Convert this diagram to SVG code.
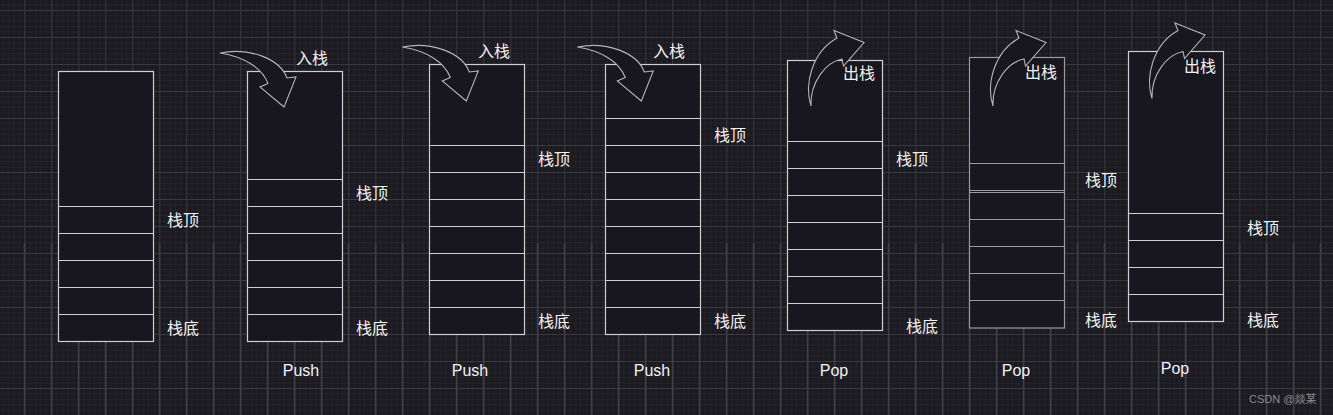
<svg xmlns="http://www.w3.org/2000/svg" width="1333" height="415" viewBox="0 0 1333 415">
  <defs>
    <pattern id="grid" patternUnits="userSpaceOnUse" x="24.3" y="10" width="27" height="27">
      <rect x="0" y="0" width="27" height="27" fill="#1b1a21"/>
      <rect x="5.4" y="0" width="0.8" height="27" fill="#25242b"/>
      <rect x="10.8" y="0" width="0.8" height="27" fill="#25242b"/>
      <rect x="16.2" y="0" width="0.8" height="27" fill="#25242b"/>
      <rect x="21.6" y="0" width="0.8" height="27" fill="#25242b"/>
      <rect x="0" y="5.4" width="27" height="0.8" fill="#25242b"/>
      <rect x="0" y="10.8" width="27" height="0.8" fill="#25242b"/>
      <rect x="0" y="16.2" width="27" height="0.8" fill="#25242b"/>
      <rect x="0" y="21.6" width="27" height="0.8" fill="#25242b"/>
      <rect x="0" y="0" width="1" height="27" fill="#3a393f"/>
      <rect x="0" y="0" width="27" height="1" fill="#3a393f"/>
    </pattern>
    <pattern id="vlow" patternUnits="userSpaceOnUse" x="23.8" y="0" width="27" height="27">
      <rect x="0" y="0" width="1.4" height="27" fill="#424147"/>
    </pattern>
    <style>
      .stack { fill: #18161f; stroke: #cfcfcf; stroke-width: 1.2; }
      .stack.dim { stroke: #9a9a9a; }
      .div { stroke: #cfcfcf; stroke-width: 1.2; }
      .div.dim { stroke: #9a9a9a; }
      .lbl { font-family: "Noto Sans CJK SC", "Noto Sans", sans-serif; font-size: 16px; fill: #f2f2f2; dominant-baseline: central; }
      .op { font-family: "Liberation Sans", Arial, sans-serif; font-size: 16px; fill: #f2f2f2; text-anchor: middle; dominant-baseline: central; }
      .arrow { fill: #18161f; stroke: #b4b4b4; stroke-width: 1.1; stroke-linejoin: miter; }
      .wm { font-family: "Liberation Sans", Arial, "Noto Sans CJK SC", sans-serif; font-size: 11px; fill: #8a8a8a; dominant-baseline: central; }
    </style>
  </defs>

  <rect x="0" y="0" width="1333" height="415" fill="url(#grid)"/>
  <rect x="0" y="243" width="1333" height="172" fill="url(#vlow)"/>

  <g id="stack1">
    <rect class="stack" x="58.5" y="71.5" width="95" height="270"/>
    <path class="div" d="M58.5 206.5H153.5M58.5 233.5H153.5M58.5 260.5H153.5M58.5 287.5H153.5M58.5 314.5H153.5"/>
    <text class="lbl" x="167" y="219">栈顶</text>
    <text class="lbl" x="167" y="327">栈底</text>
  </g>

  <g id="stack2">
    <rect class="stack" x="247.5" y="71.5" width="95" height="270"/>
    <path class="div" d="M247.5 179.5H342.5M247.5 206.5H342.5M247.5 233.5H342.5M247.5 260.5H342.5M247.5 287.5H342.5M247.5 314.5H342.5"/>
    <text class="lbl" x="356" y="192">栈顶</text>
    <text class="lbl" x="356" y="327">栈底</text>
    <text class="op" x="301" y="370">Push</text>
  </g>

  <g id="stack3">
    <rect class="stack" x="429.5" y="64.5" width="95" height="270"/>
    <path class="div" d="M429.5 145.5H524.5M429.5 172.5H524.5M429.5 199.5H524.5M429.5 226.5H524.5M429.5 253.5H524.5M429.5 280.5H524.5M429.5 307.5H524.5"/>
    <text class="lbl" x="538" y="158">栈顶</text>
    <text class="lbl" x="538" y="320">栈底</text>
    <text class="op" x="470" y="370">Push</text>
  </g>

  <g id="stack4">
    <rect class="stack" x="605.5" y="64.5" width="95" height="270"/>
    <path class="div" d="M605.5 118.5H700.5M605.5 145.5H700.5M605.5 172.5H700.5M605.5 199.5H700.5M605.5 226.5H700.5M605.5 253.5H700.5M605.5 280.5H700.5M605.5 307.5H700.5"/>
    <text class="lbl" x="714" y="134">栈顶</text>
    <text class="lbl" x="714" y="320">栈底</text>
    <text class="op" x="652" y="370">Push</text>
  </g>

  <g id="stack5">
    <rect class="stack" x="787.5" y="60.5" width="95" height="270"/>
    <path class="div" d="M787.5 141.5H882.5M787.5 168.5H882.5M787.5 195.5H882.5M787.5 222.5H882.5M787.5 249.5H882.5M787.5 276.5H882.5M787.5 303.5H882.5"/>
    <text class="lbl" x="896" y="158">栈顶</text>
    <text class="lbl" x="906" y="325">栈底</text>
    <text class="op" x="834" y="370">Pop</text>
  </g>

  <g id="stack6">
    <rect class="stack dim" x="969.5" y="57.5" width="95" height="270.5"/>
    <path class="div dim" d="M969.5 163.5H1064.5M969.5 190.5H1064.5M969.5 192.5H1064.5M969.5 219.5H1064.5M969.5 246.5H1064.5M969.5 273.5H1064.5M969.5 300.5H1064.5"/>
    <text class="lbl" x="1085" y="179">栈顶</text>
    <text class="lbl" x="1085" y="319">栈底</text>
    <text class="op" x="1016" y="370">Pop</text>
  </g>

  <g id="stack7">
    <rect class="stack" x="1128.5" y="51.5" width="95" height="270"/>
    <path class="div" d="M1128.5 213.5H1223.5M1128.5 240.5H1223.5M1128.5 267.5H1223.5M1128.5 294.5H1223.5"/>
    <text class="lbl" x="1247" y="227">栈顶</text>
    <text class="lbl" x="1247" y="319">栈底</text>
    <text class="op" x="1175" y="368">Pop</text>
  </g>

  <g id="connectors">
    <path id="push1" class="arrow" d="M220 53 C250 47 280 59 287 78 L296 77 L284 107 L260 87 L268 83.5 C262 68 245 57 220 53 Z"/>
    <path id="push2" class="arrow" transform="translate(182.3,-6)" d="M220 53 C250 47 280 59 287 78 L296 77 L284 107 L260 87 L268 83.5 C262 68 245 57 220 53 Z"/>
    <path id="push3" class="arrow" transform="translate(357.3,-6)" d="M220 53 C250 47 280 59 287 78 L296 77 L284 107 L260 87 L268 83.5 C262 68 245 57 220 53 Z"/>
    <path id="pop1" class="arrow" d="M811 106 C804 84 812 52 837 38 L834 30.5 L864 42.5 L843.5 66 L842 59 C826 62 810 82 811 106 Z"/>
    <path id="pop2" class="arrow" transform="translate(182,0)" d="M811 106 C804 84 812 52 837 38 L834 30.5 L864 42.5 L843.5 66 L842 59 C826 62 810 82 811 106 Z"/>
    <path id="pop3" class="arrow" transform="translate(341,-7.5)" d="M811 106 C804 84 812 52 837 38 L834 30.5 L864 42.5 L843.5 66 L842 59 C826 62 810 82 811 106 Z"/>
    <text class="lbl" x="296" y="57">入栈</text>
    <text class="lbl" x="478" y="50">入栈</text>
    <text class="lbl" x="653" y="50">入栈</text>
    <text class="lbl" x="843" y="72">出栈</text>
    <text class="lbl" x="1025" y="71">出栈</text>
    <text class="lbl" x="1184" y="65">出栈</text>
  </g>

  <text class="wm" x="1249" y="399">CSDN @燚某</text>
</svg>
